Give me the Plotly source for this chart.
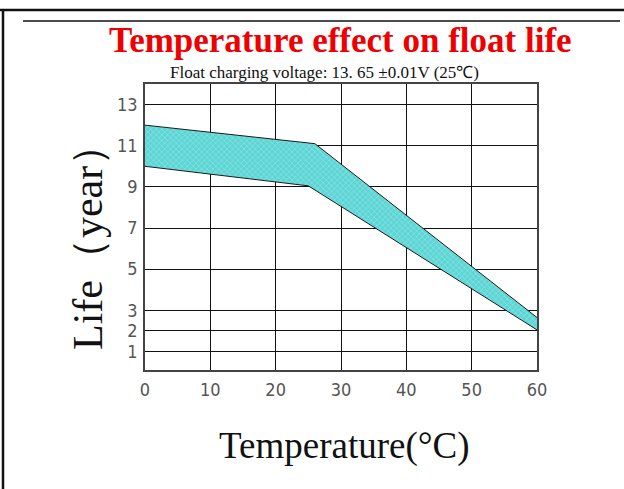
import plotly.graph_objects as go

# Data
temp_upper = [0, 26, 60]
life_upper = [12.0, 11.1, 2.65]
temp_lower = [0, 25, 60]
life_lower = [10.0, 9.05, 2.05]

x_ticks = [0, 10, 20, 30, 40, 50, 60]
y_ticks = [1, 2, 3, 5, 7, 9, 11, 13]

W, H = 624, 489
L, R, T, B = 145, 537, 84, 370  # plot area in pixels

def px(xp):
    return (xp - L) / (R - L)

def py(yp):
    return (B - yp) / (B - T)

fig = go.Figure()

poly_x = temp_upper + temp_lower[::-1]
poly_y = life_upper + life_lower[::-1]
fig.add_trace(go.Scatter(
    x=poly_x, y=poly_y, mode="lines", fill="toself",
    fillcolor="#5fd6d6",
    fillpattern=dict(shape="x", fgcolor="#c8f4f4", bgcolor="#5cd5d5", size=4, solidity=0.3),
    line=dict(color="rgba(0,0,0,0)", width=0),
    hoverinfo="skip", showlegend=False,
))
fig.add_trace(go.Scatter(x=temp_upper, y=life_upper, mode="lines",
                         line=dict(color="#1a1a1a", width=1), showlegend=False))
fig.add_trace(go.Scatter(x=temp_lower, y=life_lower, mode="lines",
                         line=dict(color="#1a1a1a", width=1), showlegend=False))

tick_font = dict(family="DejaVu Sans Condensed, Liberation Sans Narrow, DejaVu Sans, sans-serif",
                 size=18, color="#555555")

fig.update_xaxes(
    range=[0, 60], tickvals=x_ticks, ticktext=[str(v) for v in x_ticks],
    showgrid=True, gridcolor="#111111", gridwidth=1,
    showline=True, linecolor="#444444", linewidth=1.5, mirror=True,
    zeroline=False, ticks="", tickfont=tick_font, ticklabelstandoff=3,
    fixedrange=True,
)
fig.update_yaxes(
    range=[0.1, 14.0], tickvals=y_ticks, ticktext=[str(v) for v in y_ticks],
    showgrid=True, gridcolor="#111111", gridwidth=1,
    showline=True, linecolor="#444444", linewidth=1.5, mirror=True,
    zeroline=False, ticks="", tickfont=tick_font, ticklabelstandoff=2,
    fixedrange=True,
)

serif = "Liberation Serif, Times New Roman, serif"
annotations = [
    dict(text="<b>Temperature effect on float life</b>", x=px(340), y=py(41),
         font=dict(family=serif, size=35, color="#ee0000")),
    dict(text="Float charging voltage: 13. 65 ±0.01V (25℃)", x=px(324), y=py(73),
         font=dict(family=serif, size=17, color="#111111")),
    dict(text="Temperature(°C)", x=px(344), y=py(446),
         font=dict(family=serif, size=37, color="#111111")),
    dict(text="Life（year）", x=px(88), y=py(237), textangle=-90,
         font=dict(family=serif, size=42, color="#111111")),
]
for a in annotations:
    a.update(xref="paper", yref="paper", showarrow=False, xanchor="center", yanchor="middle")

shapes = [
    dict(type="line", x0=px(0), x1=px(624), y0=py(10), y1=py(10), line=dict(color="#111111", width=2.5)),
    dict(type="line", x0=px(3), x1=px(3), y0=py(10), y1=py(489), line=dict(color="#111111", width=2.5)),
    dict(type="line", x0=px(23), x1=px(620), y0=py(21), y1=py(21), line=dict(color="#111111", width=1.5)),
]
for s in shapes:
    s.update(xref="paper", yref="paper")

fig.update_layout(
    width=W, height=H,
    margin=dict(l=L, r=W - R, t=T, b=H - B),
    paper_bgcolor="white", plot_bgcolor="white",
    annotations=annotations, shapes=shapes,
    showlegend=False,
)

fig.write_html("out.html", config={"displayModeBar": False},
               post_script="document.body.style.margin='0';document.body.style.padding='0';")
